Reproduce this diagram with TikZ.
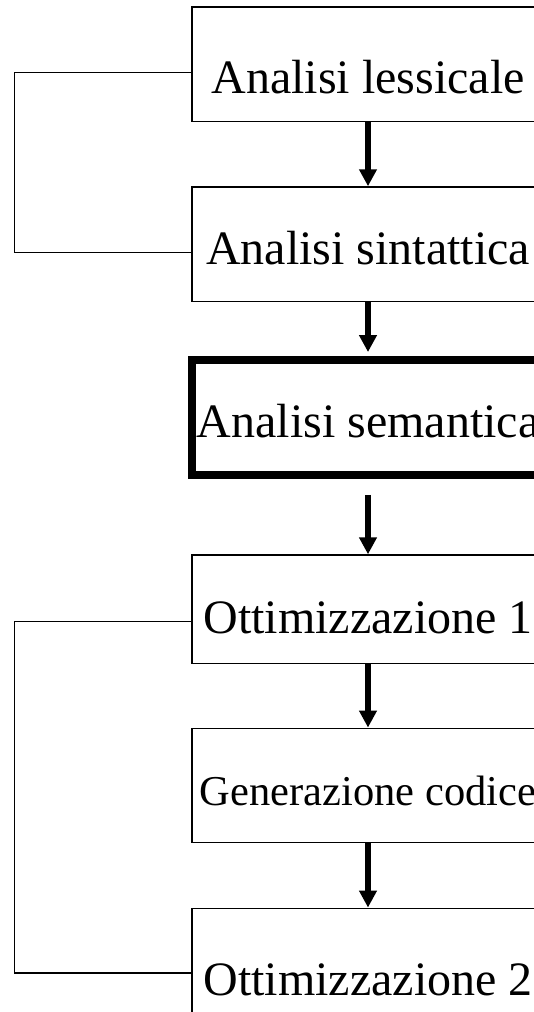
\documentclass[tikz,border=0pt]{standalone}
\usepackage{fontspec}
\setmainfont{Liberation Serif}
\usetikzlibrary{arrows.meta}
\newcommand\lowered[2]{\raisebox{-#1pt}[0pt][0pt]{#2}}
\begin{document}
\begin{tikzpicture}[x=1pt,y=-1pt,
  stagebox/.style={draw=black,line width=1.4pt,rectangle,minimum width=352pt,minimum height=114.5pt,inner sep=0pt,
    font=\fontsize{48}{50}\selectfont},
  keybox/.style={stagebox,line width=8pt},
  flow/.style={line width=5.5pt,-{Triangle[width=17pt,length=17pt]}},
  link/.style={line width=1.4pt}]
\useasboundingbox (0,0) rectangle (534,1012);
\clip (0,0) rectangle (534,1012);
\node[stagebox] (b1) at (368,64.4) {\lowered{29.3}{Analisi lessicale}};
\node[stagebox] (b2) at (368,244.2) {\lowered{20}{Analisi sintattica}};
\node[keybox,minimum width=352.6pt] (b3) at (368,417.3) {\lowered{20}{Analisi semantica}};
\node[stagebox,minimum height=108.4pt] (b4) at (368,609.2) {\lowered{24}{Ottimizzazione 1}};
\node[stagebox,font=\fontsize{42.5}{44}\selectfont] (b5) at (368,785.5) {\lowered{19.5}{Generazione codice}};
\node[stagebox] (b6) at (368,965.5) {\lowered{30}{Ottimizzazione 2}};
\draw[flow] (b1.south) -- (b2.north);
\draw[flow,shorten >=4pt] (b2.south) -- (b3.north);
\draw[flow,shorten <=16.4pt] (b3.south) -- (b4.north);
\draw[flow] (b4.south) -- (b5.north);
\draw[flow] (b5.south) -- (b6.north);
\draw[link] ([yshift=-8.1pt]b1.west) -- ++(-176.7,0) |- ([yshift=-8.2pt]b2.west);
\draw[link] ([yshift=-12.2pt]b4.west) -- ++(-176.7,0) |- ([yshift=-7.5pt]b6.west);
\end{tikzpicture}
\end{document}
